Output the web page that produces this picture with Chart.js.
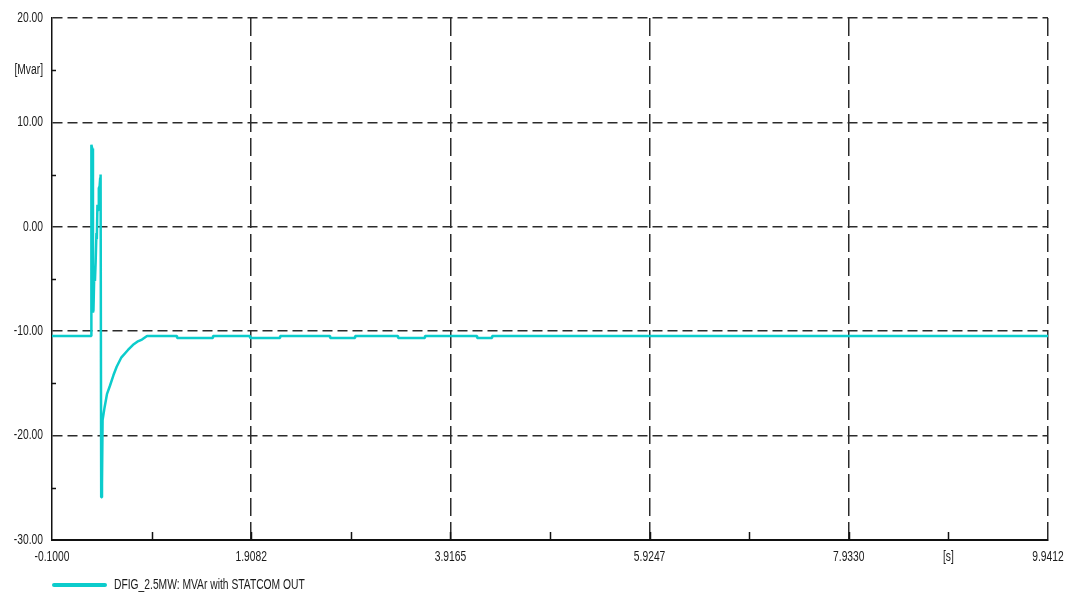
<!DOCTYPE html>
<html>
<head>
<meta charset="utf-8">
<script src="https://cdn.jsdelivr.net/npm/chart.js@4.4.1/dist/chart.umd.min.js"></script>
<style>
  html, body { margin: 0; padding: 0; background: #ffffff; }
  #wrap { width: 1070px; height: 594px; position: relative; }
</style>
</head>
<body>
<div id="wrap"><canvas id="c" width="1070" height="594"></canvas></div>
<script>
// Reactive power of the DFIG unit with the STATCOM out of service
const timeS = [
  -0.1, 0.295, 0.297, 0.306, 0.313, 0.318, 0.326, 0.333, 0.340, 0.348,
  0.352, 0.358, 0.364, 0.372, 0.380, 0.386, 0.390, 0.396, 0.404, 0.410,
  0.430, 0.455, 0.485, 0.520, 0.552, 0.600, 0.666, 0.717, 0.760, 0.807,
  0.858, 1.160, 1.161, 1.523, 1.524, 1.896, 1.897, 2.199, 2.200, 2.703,
  2.704, 2.955, 2.956, 3.388, 3.389, 3.660, 3.661, 4.185, 4.186, 4.336,
  4.337, 9.9412
];
const mvar = [
  -10.45, -10.45, 7.85, 7.5, -8.2, -8.0, -4.6, -5.2, -3.4, -0.6,
  -1.2, 2.1, 1.6, 3.7, 3.9, 4.7, 5.0, -25.9, -24.6, -18.5,
  -17.3, -16.0, -15.2, -14.2, -13.4, -12.5, -11.8, -11.3, -11.0, -10.8,
  -10.45, -10.45, -10.65, -10.65, -10.45, -10.45, -10.65, -10.65, -10.45, -10.45,
  -10.65, -10.65, -10.45, -10.45, -10.65, -10.65, -10.45, -10.45, -10.65, -10.65,
  -10.45, -10.45
];

const seriesLabel = 'DFIG_2.5MW: MVAr with STATCOM OUT';
const xRange = [-0.1, 9.9412];
const xDivisions = 10;            // half-steps: labelled every second one
const xUnitLabel = '[s]';
const xUnitSlot = 9;              // tick slot carrying the unit text
const yTickValues = [-30, -25, -20, -15, -10, -5, 0, 5, 10, 15, 20];
const yUnitLabel = '[Mvar]';
const yUnitValue = 15;

const lineColor = '#0ccccc';
const inkColor = '#1a1a1a';
const gridColor = '#2b2b2b';
const fontFamily = "'Liberation Sans', Arial, sans-serif";
const fontSize = 14;
const textCondense = 0.735;       // narrow lettering, squeezed horizontally

const points = timeS.map((t, i) => ({ x: t, y: mvar[i] }));

const canvas = document.getElementById('c');
const ctx2d = canvas.getContext('2d');
// condensed text: every string is drawn squeezed about its anchor point
const plainFillText = ctx2d.fillText.bind(ctx2d);
ctx2d.fillText = function (text, x, y, maxWidth) {
  this.save();
  this.translate(x, y);
  this.scale(textCondense, 1);
  if (maxWidth === undefined) plainFillText(text, 0, 0);
  else plainFillText(text, 0, 0, maxWidth / textCondense);
  this.restore();
};

// short tick marks drawn on the inside of the axes
const innerTicks = {
  id: 'innerTicks',
  afterDraw(chart) {
    const { ctx, chartArea: a, scales: { x, y } } = chart;
    ctx.save();
    ctx.strokeStyle = '#111';
    ctx.lineWidth = 1.5;
    x.ticks.forEach((t, i) => {
      if (i === 0 || i === x.ticks.length - 1) return;
      const px = Math.round(x.getPixelForValue(t.value)) + 0.5;
      ctx.beginPath();
      ctx.moveTo(px, a.bottom);
      ctx.lineTo(px, a.bottom - 8);
      ctx.stroke();
    });
    y.ticks.forEach((t) => {
      if (t.value % 10 === 0) return;
      const py = Math.round(y.getPixelForValue(t.value)) + 0.5;
      ctx.beginPath();
      ctx.moveTo(a.left, py);
      ctx.lineTo(a.left + 4, py);
      ctx.stroke();
    });
    ctx.restore();
  }
};

// legend row starts at the left edge of the plot area
const legendUnderPlot = {
  id: 'legendUnderPlot',
  afterLayout(chart) {
    const lg = chart.legend;
    if (!lg) return;
    const dx = chart.chartArea.left - lg.options.labels.padding - lg.left;
    lg.left += dx;
    lg.right += dx;
  }
};

new Chart(canvas, {
  type: 'line',
  data: {
    datasets: [{
      label: seriesLabel,
      data: points,
      borderColor: lineColor,
      backgroundColor: lineColor,
      borderWidth: 2.5,
      borderJoinStyle: 'bevel',
      pointRadius: 0,
      tension: 0,
      fill: false
    }]
  },
  options: {
    responsive: false,
    animation: false,
    devicePixelRatio: 1,
    layout: { padding: { left: 0, right: 22, top: 18, bottom: -8 } },
    plugins: {
      tooltip: { enabled: false },
      legend: {
        display: true,
        position: 'bottom',
        align: 'start',
        labels: {
          boxWidth: 55,
          boxHeight: 4,
          padding: 10,
          color: inkColor,
          font: { family: fontFamily, size: fontSize },
          useBorderRadius: true,
          borderRadius: 2,
          generateLabels(chart) {
            const items = Chart.defaults.plugins.legend.labels.generateLabels(chart);
            items.forEach(it => { it.lineWidth = 0; it.fillStyle = lineColor; it.strokeStyle = lineColor; });
            return items;
          }
        }
      }
    },
    scales: {
      x: {
        type: 'linear',
        min: xRange[0],
        max: xRange[1],
        afterBuildTicks(scale) {
          const step = (xRange[1] - xRange[0]) / xDivisions;
          const ticks = [];
          for (let i = 0; i <= xDivisions; i++) ticks.push({ value: xRange[0] + i * step });
          scale.ticks = ticks;
        },
        afterFit(scale) {
          scale.height = 28;
          scale.paddingLeft = 0;
          scale.paddingRight = 0;
        },
        ticks: {
          autoSkip: false,
          maxRotation: 0,
          padding: 9,
          color: inkColor,
          font: { family: fontFamily, size: fontSize },
          callback(value, index) {
            if (index === xUnitSlot) return xUnitLabel;
            return index % 2 === 0 ? Number(value).toFixed(4) : '';
          }
        },
        grid: {
          drawTicks: false,
          lineWidth: 1.5,
          color: (c) => (c.index > 0 && c.index % 2 === 0) ? gridColor : 'rgba(0,0,0,0)'
        },
        border: { display: true, color: '#111', width: 2, dash: [18, 6] }
      },
      y: {
        type: 'linear',
        min: yTickValues[0],
        max: yTickValues[yTickValues.length - 1],
        afterBuildTicks(scale) {
          scale.ticks = yTickValues.map(v => ({ value: v }));
        },
        afterFit(scale) { scale.width = 52; },
        ticks: {
          autoSkip: false,
          padding: 9,
          color: inkColor,
          font: { family: fontFamily, size: fontSize },
          callback(value) {
            if (value === yUnitValue) return yUnitLabel;
            return value % 10 === 0 ? Number(value).toFixed(2) : '';
          }
        },
        grid: {
          drawTicks: false,
          lineWidth: 1.5,
          color: (c) => (c.tick && c.tick.value % 10 === 0 && c.tick.value > yTickValues[0]) ? gridColor : 'rgba(0,0,0,0)'
        },
        border: { display: true, color: '#111', width: 1.5, dash: [10, 5] }
      }
    }
  },
  plugins: [innerTicks, legendUnderPlot]
});
</script>
</body>
</html>
